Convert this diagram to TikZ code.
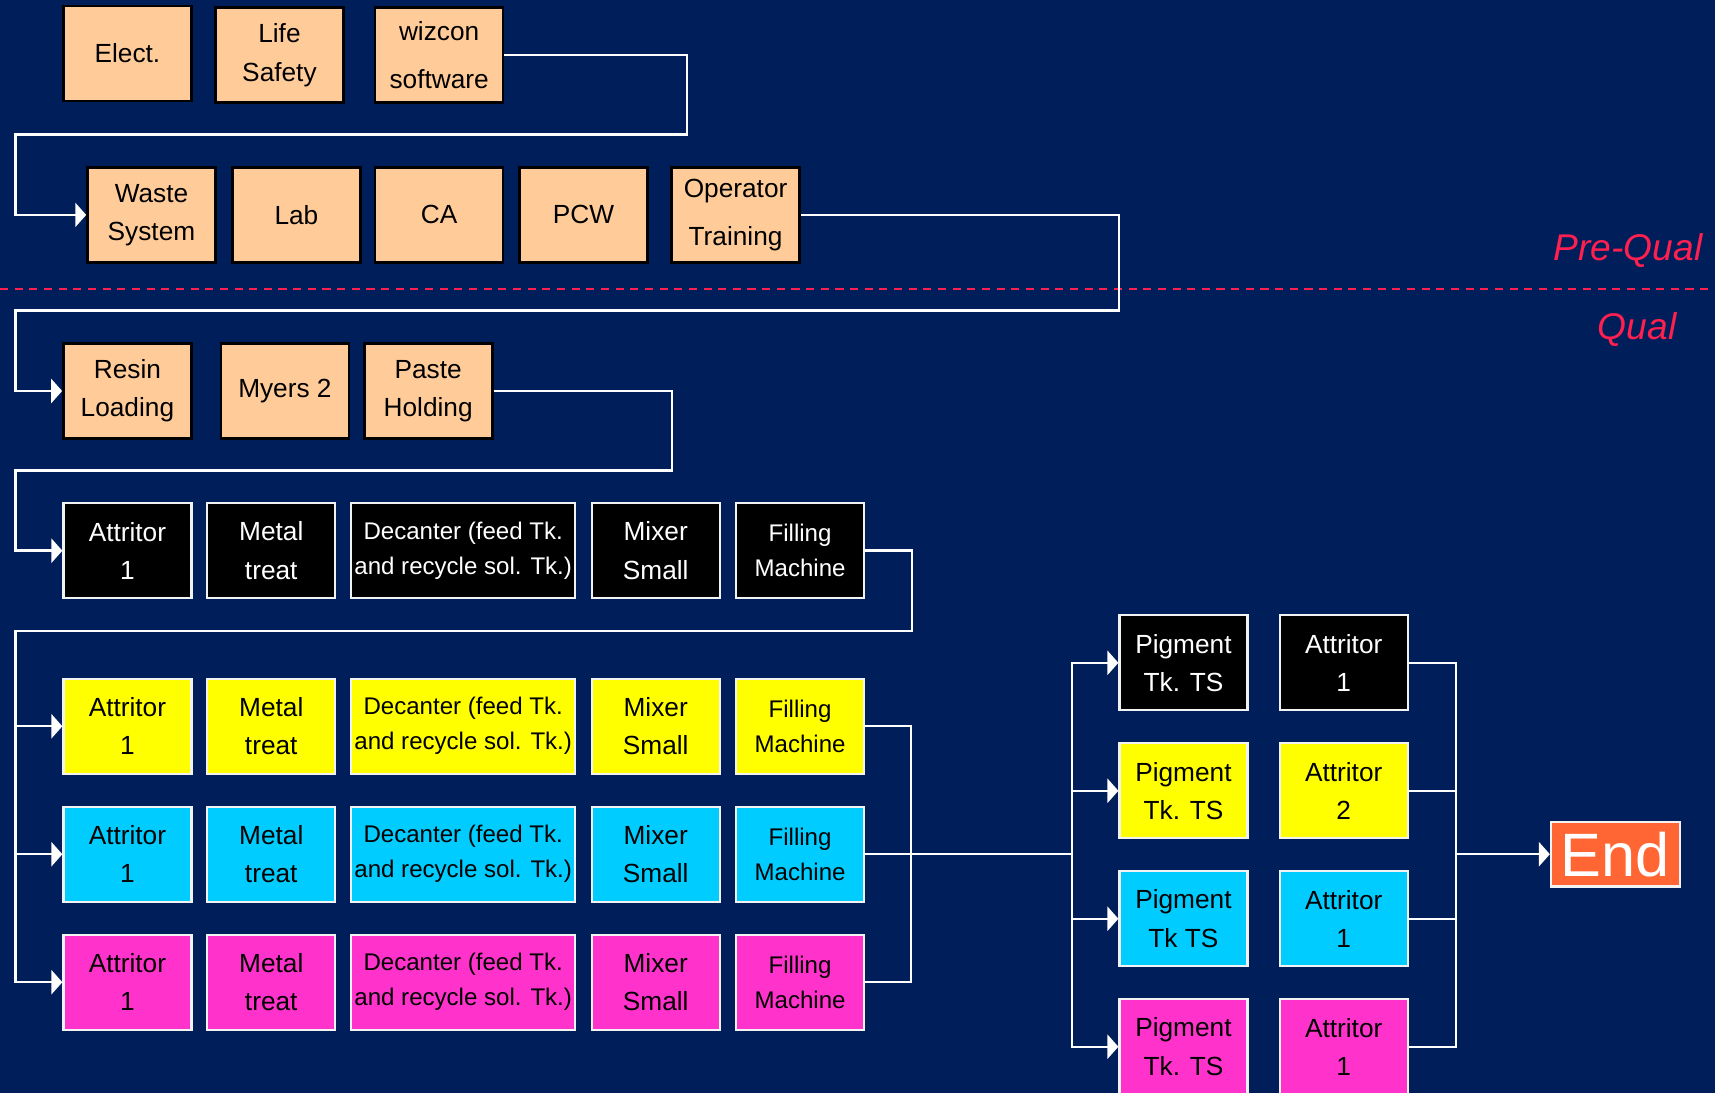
\documentclass[tikz,border=0pt]{standalone}
\usepackage{fontspec}
\setmainfont{Liberation Sans}
\usetikzlibrary{arrows.meta}
\definecolor{navy}{HTML}{001E5A}
\definecolor{peach}{HTML}{FFCC99}
\definecolor{yel}{HTML}{FFFF00}
\definecolor{cya}{HTML}{00CCFF}
\definecolor{mag}{HTML}{FF33CC}
\definecolor{endorange}{HTML}{FF6633}
\definecolor{qualred}{HTML}{FF2050}
\begin{document}
\begin{tikzpicture}[x=0.5pt, y=-0.5pt,
		box/.style={rectangle, minimum width=58.5pt, minimum height=43.5pt, inner sep=1pt, align=center, font=\fontsize{12}{17.5}\selectfont},
		pre/.style={box, fill=peach, draw=black, line width=1.2pt},
		unit/.style={box, draw=white!90!gray, line width=1pt},
		wide/.style={minimum width=102.5pt},
		small/.style={font=\fontsize{11}{16}\selectfont},
		loose/.style={font=\fontsize{12}{22}\selectfont},
		phase/.style={qualred, anchor=east, inner sep=0pt, font=\fontsize{17}{20}\selectfont\itshape},
		flow/.style={draw=white, line width=1.1pt},
		arr/.style={flow, -{Triangle[length=5pt, width=11pt]}}]
	\fill[navy] (0,0) rectangle (1568,999);
	\clip (0,0) rectangle (1568,999);

	\node[pre] (elect) at (116.5,49) {Elect.};
	\node[pre] (life) at (255.5,50.5) {Life\\Safety};
	\node[pre, loose] (wiz) at (401.5,50.5) {wizcon\\software};

	\node[pre] (waste) at (138.5,196.5) {Waste\\System};
	\node[pre] (lab) at (271,196.5) {Lab};
	\node[pre] (ca) at (401.5,196.5) {CA};
	\node[pre] (pcw) at (533.5,196.5) {PCW};
	\node[pre, loose] (oper) at (672.5,196.5) {Operator\\Training};

	\draw[qualred, line width=1pt, dash pattern=on 3.7pt off 3pt] (0,264) -- (1568,264);
	\node[phase] (prequal) at (1557,229) {Pre-Qual};
	\node[phase] (qual) at (1533,301) {Qual};

	\node[pre] (resin) at (116.5,357.5) {Resin\\Loading};
	\node[pre] (myers) at (260.5,357.5) {Myers 2};
	\node[pre] (paste) at (391.5,357.5) {Paste\\Holding};

	\foreach \r/\y/\c/\t in {k/503.5/black/white, y/664/yel/black, c/781/cya/black, m/898/mag/black} {
		\node[unit, fill=\c, text=\t] (att\r) at (116.5,\y) {Attritor\\1};
		\node[unit, fill=\c, text=\t] (met\r) at (248,\y) {Metal\\treat};
		\node[unit, wide, small, fill=\c, text=\t] (dec\r) at (423.5,\y) {Decanter (feed Tk.\\and recycle sol. Tk.)};
		\node[unit, fill=\c, text=\t] (mix\r) at (599.5,\y) {Mixer\\Small};
		\node[unit, small, fill=\c, text=\t] (fil\r) at (731.5,\y) {Filling\\Machine};
	}

	\foreach \r/\y/\c/\t/\tk/\n in {k/606/black/white/Tk. TS/1, y/723/yel/black/Tk. TS/2, c/840/cya/black/Tk TS/1, m/957/mag/black/Tk. TS/1} {
		\node[unit, fill=\c, text=\t] (pig\r) at (1082,\y) {Pigment\\\tk};
		\node[unit, fill=\c, text=\t] (sat\r) at (1228.5,\y) {Attritor\\\n};
	}

	\node[draw=white!90!gray, line width=1pt, fill=endorange, text=white, minimum width=59pt, minimum height=29.5pt, inner sep=0pt, font=\fontsize{28}{28}\selectfont] (end) at (1477,781) {End};

	\draw[arr] (wiz.east) -- ++(167,0) |- (14,123) |- (waste.west);
	\draw[arr] (oper.east) -- ++(291,0) |- (14,284) |- (resin.west);
	\draw[arr] (paste.east) -- ++(163,0) |- (14,430) |- (attk.west);
	\draw[arr] (filk.east) -- ++(43,0) |- (14,577) |- (attm.west);

	\coordinate (rail) at (14,577);
	\draw[arr] (rail |- atty.west) -- (atty.west);
	\draw[arr] (rail |- attc.west) -- (attc.west);

	\coordinate (merge) at (833,781);
	\coordinate (split) at (980,781);
	\draw[flow] (fily.east) -| (merge);
	\draw[flow] (film.east) -| (merge);
	\draw[flow] (filc.east) -- (split);
	\foreach \r in {k,y,c,m}
		\draw[arr] (split) |- (pig\r.west);

	\coordinate (join) at (1331,781);
	\foreach \r in {k,y,c,m}
		\draw[flow] (sat\r.east) -| (join);
	\draw[arr] (join) -- (end.west);
\end{tikzpicture}
\end{document}
